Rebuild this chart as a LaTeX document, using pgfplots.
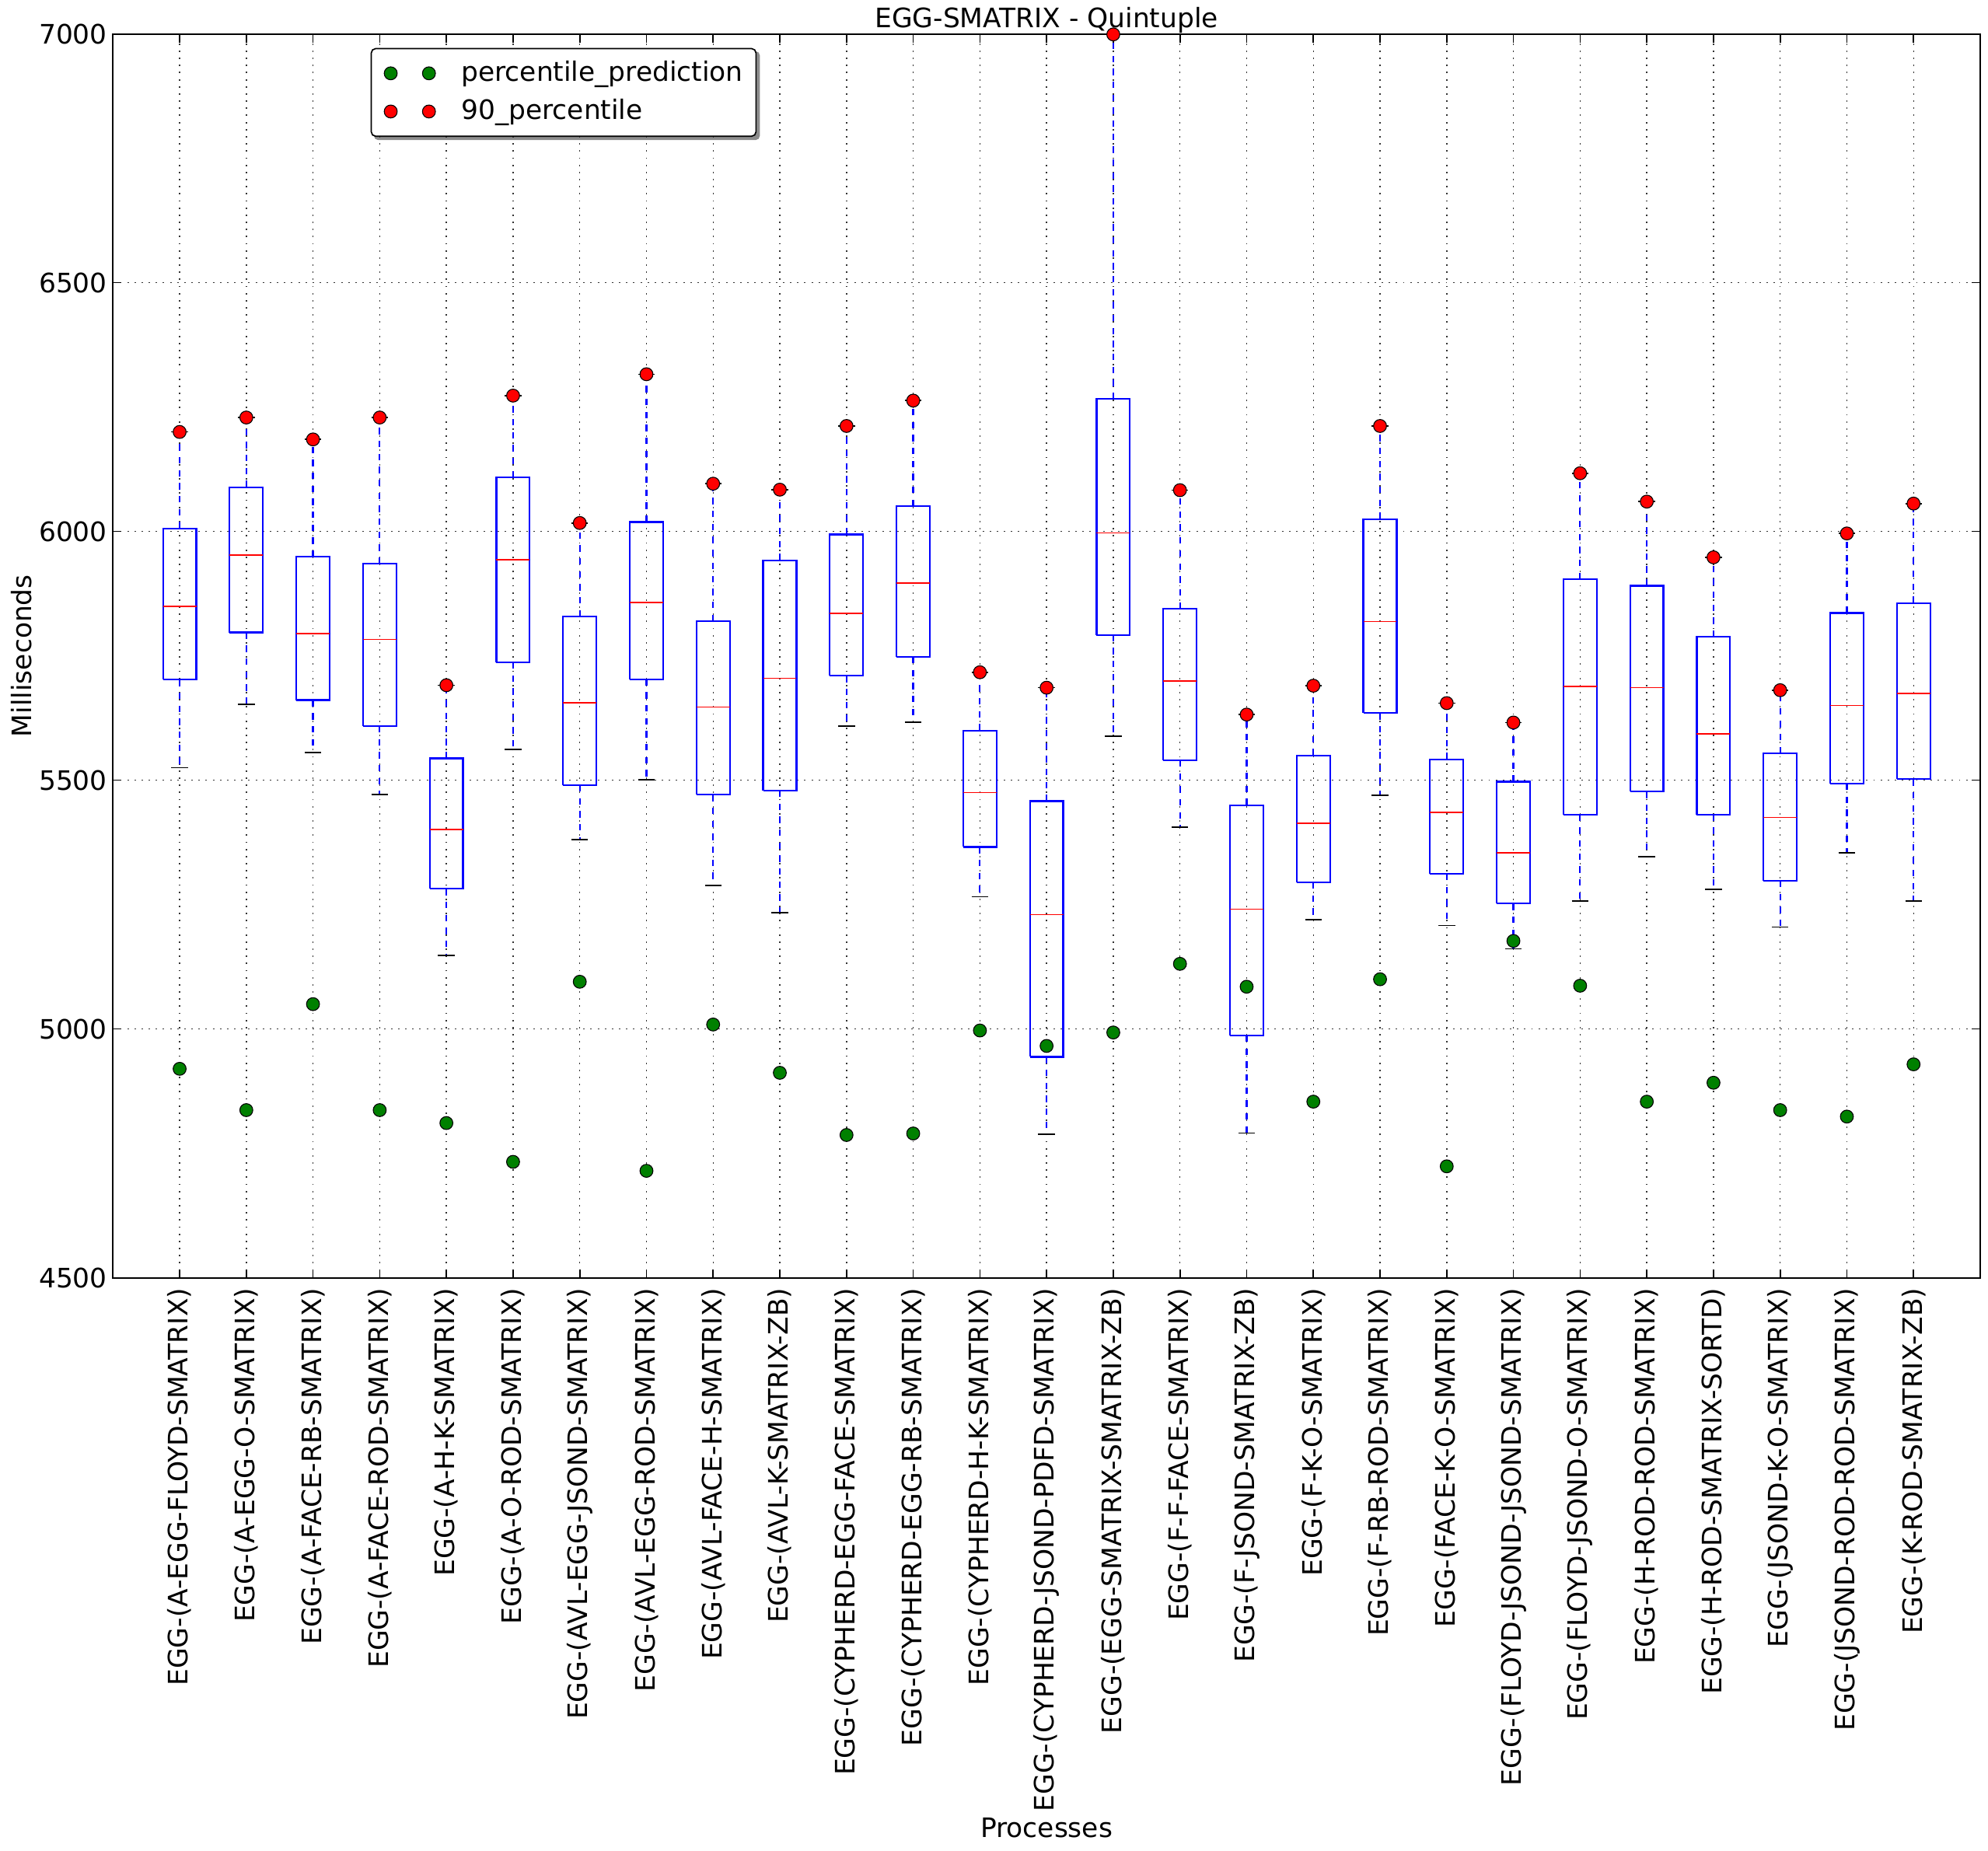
\documentclass[border=0pt]{standalone}
\usepackage{pgfplots}
\pgfplotsset{compat=1.18}
\usetikzlibrary{backgrounds}
\usepackage{fontspec}
\setmainfont{DejaVu Sans}
\definecolor{mplgreen}{rgb}{0,0.5,0}
\pgfplotsset{
  twomarks/.style={legend image code/.code={\draw[##1, only marks] plot coordinates {(0pt,0pt) (17.7pt,0pt)};}},
}
\begin{document}
\fontsize{12.4}{14.9}\selectfont
\begin{tikzpicture}
\begin{axis}[
  scale only axis, width=864.6pt, height=576pt,
  xmin=0, xmax=28, ymin=4500, ymax=7000,
  xtick={1,...,27},
  xticklabels={{EGG-(A-EGG-FLOYD-SMATRIX)},{EGG-(A-EGG-O-SMATRIX)},{EGG-(A-FACE-RB-SMATRIX)},{EGG-(A-FACE-ROD-SMATRIX)},{EGG-(A-H-K-SMATRIX)},{EGG-(A-O-ROD-SMATRIX)},{EGG-(AVL-EGG-JSOND-SMATRIX)},{EGG-(AVL-EGG-ROD-SMATRIX)},{EGG-(AVL-FACE-H-SMATRIX)},{EGG-(AVL-K-SMATRIX-ZB)},{EGG-(CYPHERD-EGG-FACE-SMATRIX)},{EGG-(CYPHERD-EGG-RB-SMATRIX)},{EGG-(CYPHERD-H-K-SMATRIX)},{EGG-(CYPHERD-JSOND-PDFD-SMATRIX)},{EGG-(EGG-SMATRIX-SMATRIX-ZB)},{EGG-(F-F-FACE-SMATRIX)},{EGG-(F-JSOND-SMATRIX-ZB)},{EGG-(F-K-O-SMATRIX)},{EGG-(F-RB-ROD-SMATRIX)},{EGG-(FACE-K-O-SMATRIX)},{EGG-(FLOYD-JSOND-JSOND-SMATRIX)},{EGG-(FLOYD-JSOND-O-SMATRIX)},{EGG-(H-ROD-ROD-SMATRIX)},{EGG-(H-ROD-SMATRIX-SORTD)},{EGG-(JSOND-K-O-SMATRIX)},{EGG-(JSOND-ROD-ROD-SMATRIX)},{EGG-(K-ROD-SMATRIX-ZB)}},
  ytick={4500,5000,5500,6000,6500,7000},
  scaled y ticks=false,
  /pgf/number format/1000 sep={},
  /pgf/number format/assume math mode=true,
  tick align=inside, major tick length=4pt,
  tick style={black, line width=0.6pt},
  axis line style={black, line width=0.8pt},
  grid=major,
  major grid style={black!80, line width=0.5pt, dash pattern=on 0.7pt off 2.6pt},
  xticklabel style={rotate=90, anchor=east, inner xsep=4.6pt, inner ysep=0pt},
  yticklabel style={anchor=east, inner xsep=2.5pt, inner ysep=0pt},
  title={EGG-SMATRIX - Quintuple},
  title style={at={(0.5,1)}, anchor=base, yshift=-3.2pt, inner sep=0pt},
  xlabel={Processes},
  xlabel style={at={(axis description cs:0.5,0)}, anchor=base, yshift=-259.1pt, inner sep=0pt},
  ylabel={Milliseconds},
  ylabel style={at={(axis description cs:-0.04904,0.5)}, anchor=center, inner sep=0pt},
  unbounded coords=jump,
  legend cell align=left,
  legend style={name=lgd, at={(0.138,0.9887)}, anchor=north west, draw=black, line width=0.6pt,
    rounded corners=2pt, fill=white, inner xsep=6pt, inner ysep=5.8pt,
    row sep=6.4pt, column sep=12pt, nodes={inner sep=0pt}},
]
% whiskers: (x,upper quartile)-(x,upper whisker) and (x,lower quartile)-(x,lower whisker)
\addplot[forget plot, blue, line width=0.8pt, dash pattern=on 3pt off 3pt] coordinates {
(1,6006) (1,6200) (1,nan) (1,5702) (1,5525) (1,nan)
(2,6089) (2,6229) (2,nan) (2,5797) (2,5653) (2,nan)
(3,5949) (3,6185) (3,nan) (3,5661) (3,5556) (3,nan)
(4,5935) (4,6229) (4,nan) (4,5609) (4,5471) (4,nan)
(5,5544) (5,5691) (5,nan) (5,5282) (5,5148) (5,nan)
(6,6109) (6,6273) (6,nan) (6,5737) (6,5562) (6,nan)
(7,5829) (7,6017) (7,nan) (7,5490) (7,5381) (7,nan)
(8,6019) (8,6316) (8,nan) (8,5703) (8,5501) (8,nan)
(9,5820) (9,6096) (9,nan) (9,5471) (9,5288) (9,nan)
(10,5942) (10,6084) (10,nan) (10,5479) (10,5234) (10,nan)
(11,5994) (11,6212) (11,nan) (11,5710) (11,5609) (11,nan)
(12,6051) (12,6263) (12,nan) (12,5748) (12,5617) (12,nan)
(13,5600) (13,5717) (13,nan) (13,5366) (13,5266) (13,nan)
(14,5458) (14,5686) (14,nan) (14,4944) (14,4789) (14,nan)
(15,6266) (15,7000) (15,nan) (15,5792) (15,5589) (15,nan)
(16,5845) (16,6083) (16,nan) (16,5540) (16,5406) (16,nan)
(17,5450) (17,5632) (17,nan) (17,4987) (17,4791) (17,nan)
(18,5550) (18,5690) (18,nan) (18,5295) (18,5220) (18,nan)
(19,6025) (19,6212) (19,nan) (19,5635) (19,5470) (19,nan)
(20,5542) (20,5655) (20,nan) (20,5312) (20,5208) (20,nan)
(21,5497) (21,5616) (21,nan) (21,5252) (21,5161) (21,nan)
(22,5904) (22,6117) (22,nan) (22,5431) (22,5257) (22,nan)
(23,5891) (23,6060) (23,nan) (23,5477) (23,5346) (23,nan)
(24,5788) (24,5948) (24,nan) (24,5431) (24,5281) (24,nan)
(25,5554) (25,5681) (25,nan) (25,5298) (25,5205) (25,nan)
(26,5836) (26,5996) (26,nan) (26,5493) (26,5354) (26,nan)
(27,5856) (27,6056) (27,nan) (27,5502) (27,5257) (27,nan)
};
% whisker caps
\addplot[forget plot, black, line width=0.6pt] coordinates {
(0.875,6200) (1.125,6200) (1,nan) (0.875,5525) (1.125,5525) (1,nan)
(1.875,6229) (2.125,6229) (2,nan) (1.875,5653) (2.125,5653) (2,nan)
(2.875,6185) (3.125,6185) (3,nan) (2.875,5556) (3.125,5556) (3,nan)
(3.875,6229) (4.125,6229) (4,nan) (3.875,5471) (4.125,5471) (4,nan)
(4.875,5691) (5.125,5691) (5,nan) (4.875,5148) (5.125,5148) (5,nan)
(5.875,6273) (6.125,6273) (6,nan) (5.875,5562) (6.125,5562) (6,nan)
(6.875,6017) (7.125,6017) (7,nan) (6.875,5381) (7.125,5381) (7,nan)
(7.875,6316) (8.125,6316) (8,nan) (7.875,5501) (8.125,5501) (8,nan)
(8.875,6096) (9.125,6096) (9,nan) (8.875,5288) (9.125,5288) (9,nan)
(9.875,6084) (10.125,6084) (10,nan) (9.875,5234) (10.125,5234) (10,nan)
(10.875,6212) (11.125,6212) (11,nan) (10.875,5609) (11.125,5609) (11,nan)
(11.875,6263) (12.125,6263) (12,nan) (11.875,5617) (12.125,5617) (12,nan)
(12.875,5717) (13.125,5717) (13,nan) (12.875,5266) (13.125,5266) (13,nan)
(13.875,5686) (14.125,5686) (14,nan) (13.875,4789) (14.125,4789) (14,nan)
(14.875,6999) (15.125,6999) (15,nan) (14.875,5589) (15.125,5589) (15,nan)
(15.875,6083) (16.125,6083) (16,nan) (15.875,5406) (16.125,5406) (16,nan)
(16.875,5632) (17.125,5632) (17,nan) (16.875,4791) (17.125,4791) (17,nan)
(17.875,5690) (18.125,5690) (18,nan) (17.875,5220) (18.125,5220) (18,nan)
(18.875,6212) (19.125,6212) (19,nan) (18.875,5470) (19.125,5470) (19,nan)
(19.875,5655) (20.125,5655) (20,nan) (19.875,5208) (20.125,5208) (20,nan)
(20.875,5616) (21.125,5616) (21,nan) (20.875,5161) (21.125,5161) (21,nan)
(21.875,6117) (22.125,6117) (22,nan) (21.875,5257) (22.125,5257) (22,nan)
(22.875,6060) (23.125,6060) (23,nan) (22.875,5346) (23.125,5346) (23,nan)
(23.875,5948) (24.125,5948) (24,nan) (23.875,5281) (24.125,5281) (24,nan)
(24.875,5681) (25.125,5681) (25,nan) (24.875,5205) (25.125,5205) (25,nan)
(25.875,5996) (26.125,5996) (26,nan) (25.875,5354) (26.125,5354) (26,nan)
(26.875,6056) (27.125,6056) (27,nan) (26.875,5257) (27.125,5257) (27,nan)
};
% boxes: lower quartile to upper quartile
\addplot[forget plot, blue, line width=0.8pt, line join=miter] coordinates {
(0.75,5702) (1.25,5702) (1.25,6006) (0.75,6006) (0.75,5702) (1,nan)
(1.75,5797) (2.25,5797) (2.25,6089) (1.75,6089) (1.75,5797) (2,nan)
(2.75,5661) (3.25,5661) (3.25,5949) (2.75,5949) (2.75,5661) (3,nan)
(3.75,5609) (4.25,5609) (4.25,5935) (3.75,5935) (3.75,5609) (4,nan)
(4.75,5282) (5.25,5282) (5.25,5544) (4.75,5544) (4.75,5282) (5,nan)
(5.75,5737) (6.25,5737) (6.25,6109) (5.75,6109) (5.75,5737) (6,nan)
(6.75,5490) (7.25,5490) (7.25,5829) (6.75,5829) (6.75,5490) (7,nan)
(7.75,5703) (8.25,5703) (8.25,6019) (7.75,6019) (7.75,5703) (8,nan)
(8.75,5471) (9.25,5471) (9.25,5820) (8.75,5820) (8.75,5471) (9,nan)
(9.75,5479) (10.25,5479) (10.25,5942) (9.75,5942) (9.75,5479) (10,nan)
(10.75,5710) (11.25,5710) (11.25,5994) (10.75,5994) (10.75,5710) (11,nan)
(11.75,5748) (12.25,5748) (12.25,6051) (11.75,6051) (11.75,5748) (12,nan)
(12.75,5366) (13.25,5366) (13.25,5600) (12.75,5600) (12.75,5366) (13,nan)
(13.75,4944) (14.25,4944) (14.25,5458) (13.75,5458) (13.75,4944) (14,nan)
(14.75,5792) (15.25,5792) (15.25,6266) (14.75,6266) (14.75,5792) (15,nan)
(15.75,5540) (16.25,5540) (16.25,5845) (15.75,5845) (15.75,5540) (16,nan)
(16.75,4987) (17.25,4987) (17.25,5450) (16.75,5450) (16.75,4987) (17,nan)
(17.75,5295) (18.25,5295) (18.25,5550) (17.75,5550) (17.75,5295) (18,nan)
(18.75,5635) (19.25,5635) (19.25,6025) (18.75,6025) (18.75,5635) (19,nan)
(19.75,5312) (20.25,5312) (20.25,5542) (19.75,5542) (19.75,5312) (20,nan)
(20.75,5252) (21.25,5252) (21.25,5497) (20.75,5497) (20.75,5252) (21,nan)
(21.75,5431) (22.25,5431) (22.25,5904) (21.75,5904) (21.75,5431) (22,nan)
(22.75,5477) (23.25,5477) (23.25,5891) (22.75,5891) (22.75,5477) (23,nan)
(23.75,5431) (24.25,5431) (24.25,5788) (23.75,5788) (23.75,5431) (24,nan)
(24.75,5298) (25.25,5298) (25.25,5554) (24.75,5554) (24.75,5298) (25,nan)
(25.75,5493) (26.25,5493) (26.25,5836) (25.75,5836) (25.75,5493) (26,nan)
(26.75,5502) (27.25,5502) (27.25,5856) (26.75,5856) (26.75,5502) (27,nan)
};
% medians
\addplot[forget plot, red, line width=0.6pt] coordinates {
(0.75,5849) (1.25,5849) (1,nan)
(1.75,5953) (2.25,5953) (2,nan)
(2.75,5795) (3.25,5795) (3,nan)
(3.75,5783) (4.25,5783) (4,nan)
(4.75,5401) (5.25,5401) (5,nan)
(5.75,5943) (6.25,5943) (6,nan)
(6.75,5656) (7.25,5656) (7,nan)
(7.75,5857) (8.25,5857) (8,nan)
(8.75,5647) (9.25,5647) (9,nan)
(9.75,5705) (10.25,5705) (10,nan)
(10.75,5835) (11.25,5835) (11,nan)
(11.75,5896) (12.25,5896) (12,nan)
(12.75,5475) (13.25,5475) (13,nan)
(13.75,5230) (14.25,5230) (14,nan)
(14.75,5997) (15.25,5997) (15,nan)
(15.75,5699) (16.25,5699) (16,nan)
(16.75,5241) (17.25,5241) (17,nan)
(17.75,5413) (18.25,5413) (18,nan)
(18.75,5819) (19.25,5819) (19,nan)
(19.75,5435) (20.25,5435) (20,nan)
(20.75,5354) (21.25,5354) (21,nan)
(21.75,5689) (22.25,5689) (22,nan)
(22.75,5686) (23.25,5686) (23,nan)
(23.75,5593) (24.25,5593) (24,nan)
(24.75,5425) (25.25,5425) (25,nan)
(25.75,5650) (26.25,5650) (26,nan)
(26.75,5674) (27.25,5674) (27,nan)
};
% percentile_prediction
\addplot[only marks, mark=*, mark size=3pt, mark options={draw=black, fill=mplgreen, line width=0.4pt}, twomarks]
coordinates {(1,4920) (2,4837) (3,5050) (4,4837) (5,4811) (6,4733) (7,5095) (8,4715) (9,5009) (10,4912) (11,4787) (12,4790) (13,4997) (14,4966) (15,4993) (16,5131) (17,5085) (18,4854) (19,5100) (20,4724) (21,5177) (22,5087) (23,4854) (24,4892) (25,4837) (26,4824) (27,4929)};
\addlegendentry{percentile\_prediction}
% 90_percentile
\addplot[only marks, mark=*, mark size=3pt, mark options={draw=black, fill=red, line width=0.4pt}, twomarks]
coordinates {(1,6200) (2,6229) (3,6185) (4,6229) (5,5691) (6,6273) (7,6017) (8,6316) (9,6096) (10,6084) (11,6212) (12,6263) (13,5717) (14,5686) (15,6999) (16,6083) (17,5632) (18,5690) (19,6212) (20,5655) (21,5616) (22,6117) (23,6060) (24,5948) (25,5681) (26,5996) (27,6056)};
\addlegendentry{90\_percentile}
\end{axis}
\begin{pgfonlayer}{background}
\fill[black!45, rounded corners=2pt] ([xshift=1.5pt,yshift=-1.5pt]lgd.south west) rectangle ([xshift=1.5pt,yshift=-1.5pt]lgd.north east);
\end{pgfonlayer}
\pgfresetboundingbox
\useasboundingbox ([xshift=-52.3pt,yshift=-265.1pt]current axis.south west) rectangle ([xshift=3.6pt,yshift=15.7pt]current axis.north east);
\end{tikzpicture}
\end{document}
